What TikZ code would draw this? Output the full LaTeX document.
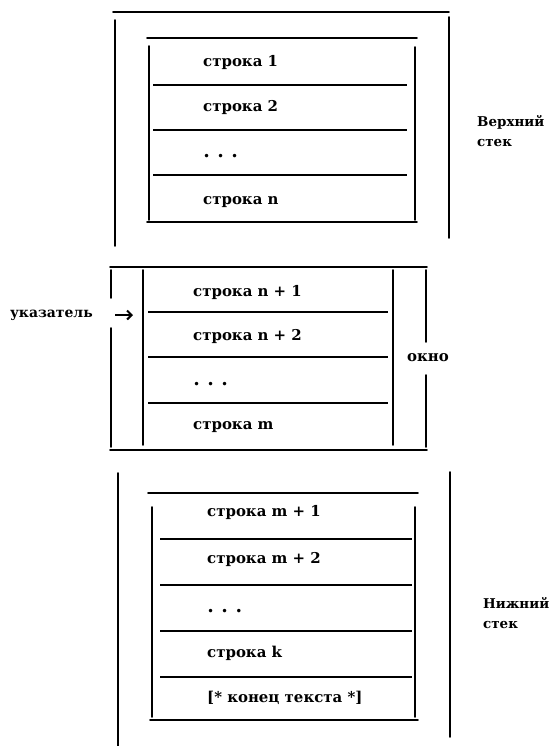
\documentclass[tikz,border=0pt]{standalone}
\usepackage{fontspec}
\setmainfont{DejaVu Serif}
\usetikzlibrary{arrows.meta}
\tikzset{
  rule/.style={line width=1.6pt, line cap=round},
  sep/.style={line width=1.5pt},
  rowtext/.style={anchor=west, inner sep=0pt, font=\fontsize{15}{15}\selectfont\bfseries},
  dotstext/.style={anchor=west, inner sep=0pt, font=\fontsize{12}{12}\selectfont},
  sidetext/.style={anchor=west, inner sep=0pt, align=left, font=\fontsize{13.5}{20}\selectfont\bfseries},
  ptrarrow/.style={line width=2pt, -{Straight Barb[length=4.5pt,width=9pt,line width=2pt]}}
}
\begin{document}
\begin{tikzpicture}[x=1bp,y=-1bp]
\useasboundingbox (0,0) rectangle (553,746);
\fill[white] (0,0) rectangle (553,746);

% ---------- upper stack ----------
\draw[rule] (113,12) -- (449,12);
\draw[rule] (115,20) -- (115,246);
\draw[rule] (449,17) -- (449,238);
\draw[rule] (147,38) -- (417,38);
\draw[rule] (149,46) -- (149,220);
\draw[rule] (415,47) -- (415,220);
\draw[rule] (147,222) -- (417,222);
\draw[sep] (153,85) -- (407,85);
\draw[sep] (153,130) -- (407,130);
\draw[sep] (153,175) -- (407,175);
\node[rowtext] (u1) at (203,63) {строка 1};
\node[rowtext] (u2) at (203,108) {строка 2};
\node[dotstext] (ud) at (203,157) {•\hspace{7pt}•\hspace{7pt}•};
\node[rowtext] (un) at (203,202) {строка n};
\node[sidetext] (upper) at (477,131) {Верхний\\стек};

% ---------- window ----------
\draw[rule] (110,267) -- (427,267);
\draw[rule] (111,270) -- (111,298);
\draw[rule] (111,328) -- (111,447);
\draw[rule] (143,270) -- (143,445);
\draw[rule] (393,270) -- (393,445);
\draw[rule] (426,270) -- (426,342);
\draw[rule] (426,375) -- (426,447);
\draw[rule] (110,450) -- (427,450);
\draw[sep] (148,312) -- (388,312);
\draw[sep] (148,357) -- (388,357);
\draw[sep] (148,403) -- (388,403);
\node[rowtext] (w1) at (193,293) {строка n + 1};
\node[rowtext] (w2) at (193,337) {строка n + 2};
\node[dotstext] (wd) at (193,385) {•\hspace{7pt}•\hspace{7pt}•};
\node[rowtext] (wm) at (193,427) {строка m};
\node[rowtext, anchor=east, font=\fontsize{14}{14}\selectfont\bfseries] (ptr) at (93,315) {указатель};
\coordinate (ptrA) at (115,315);
\coordinate (ptrB) at (133,315);
\draw[ptrarrow] (ptrA) -- (ptrB);
\node[rowtext, anchor=center] (win) at (428,358) {окно};

% ---------- lower stack ----------
\draw[rule] (118,473) -- (118,746);
\draw[rule] (450,472) -- (450,737);
\draw[rule] (148,493) -- (418,493);
\draw[rule] (152,507) -- (152,717);
\draw[rule] (415,507) -- (415,717);
\draw[rule] (150,720) -- (418,720);
\draw[sep] (160,539) -- (412,539);
\draw[sep] (160,585) -- (412,585);
\draw[sep] (160,631) -- (412,631);
\draw[sep] (160,677) -- (412,677);
\node[rowtext] (l1) at (207,513) {строка m + 1};
\node[rowtext] (l2) at (207,560) {строка m + 2};
\node[dotstext] (ld) at (207,612) {•\hspace{7pt}•\hspace{7pt}•};
\node[rowtext] (lk) at (207,653) {строка k};
\node[rowtext] (lend) at (207,698) {[* конец текста *]};
\node[sidetext] (lower) at (483,613) {Нижний\\стек};
\end{tikzpicture}
\end{document}
